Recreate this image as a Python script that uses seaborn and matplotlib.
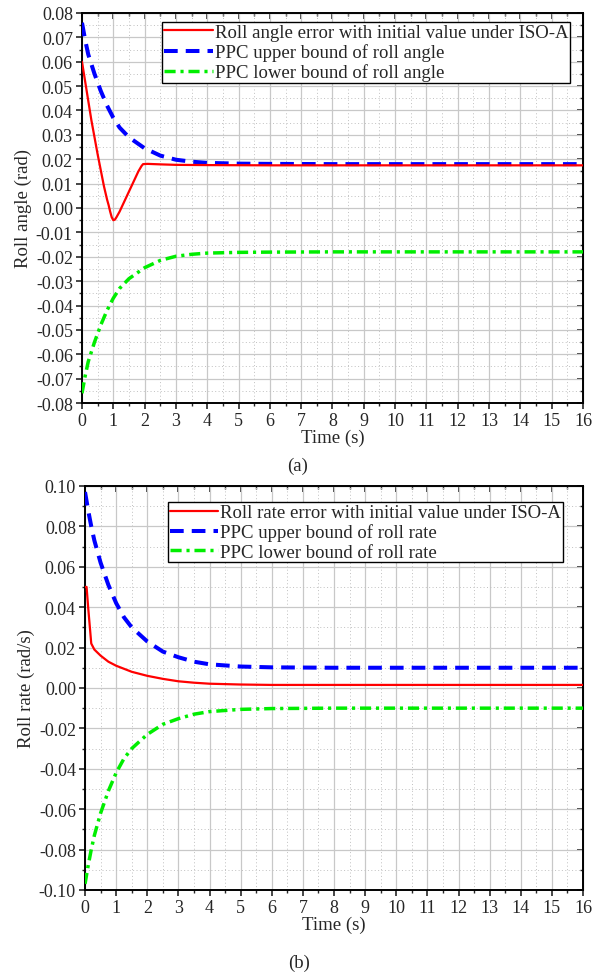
import numpy as np
import pandas as pd
import matplotlib
matplotlib.use("Agg")
import matplotlib.pyplot as plt
import seaborn as sns
from matplotlib.ticker import MultipleLocator

# ---------------- data ----------------
t_a_err = [0, 0.1, 0.2, 0.3, 0.4, 0.5, 0.6, 0.7, 0.8, 0.85, 0.9, 0.95, 1.0, 1.05, 1.1, 1.2, 1.4, 1.6, 1.8, 1.9, 1.95, 2.1, 2.5, 3.0, 4.0, 6.0, 10.0, 16.0]
angle_err = [0.060, 0.052, 0.044, 0.036, 0.029, 0.022, 0.0155, 0.009, 0.0035, 0.0012, -0.0015, -0.0038, -0.0050, -0.0048, -0.0038, -0.0015, 0.004, 0.0095, 0.015, 0.0172, 0.0180, 0.0181, 0.0179, 0.0177, 0.0176, 0.0175, 0.0175, 0.0175]

t_a_bnd = [0, 0.1, 0.2, 0.4, 0.6, 0.8, 1.0, 1.2, 1.5, 2.0, 2.5, 3.0, 3.5, 4.0, 5.0, 6.0, 8.0, 16.0]
angle_up = [0.076, 0.069, 0.063, 0.055, 0.048, 0.042, 0.037, 0.033, 0.029, 0.0245, 0.0215, 0.0198, 0.0190, 0.0185, 0.0182, 0.0181, 0.0180, 0.0180]
angle_lo = [-v for v in angle_up]

t_b_err = [0, 0.05, 0.1, 0.2, 0.3, 0.5, 0.75, 1.0, 1.5, 2.0, 2.5, 3.0, 3.5, 4.0, 5.0, 6.0, 8.0, 16.0]
rate_err = [0.050, 0.050, 0.040, 0.022, 0.019, 0.016, 0.013, 0.011, 0.008, 0.006, 0.0045, 0.0033, 0.0026, 0.0021, 0.0017, 0.0015, 0.0015, 0.0015]

t_b_bnd = [0, 0.1, 0.2, 0.3, 0.5, 0.75, 1.0, 1.25, 1.5, 2.0, 2.5, 3.0, 3.5, 4.0, 5.0, 6.0, 8.0, 16.0]
rate_up = [0.097, 0.088, 0.080, 0.073, 0.062, 0.051, 0.042, 0.035, 0.030, 0.023, 0.018, 0.0152, 0.0130, 0.0117, 0.0106, 0.0102, 0.0100, 0.0100]
rate_lo = [-v for v in rate_up]

labels_a = ["Roll angle error with initial value under ISO-A",
            "PPC upper bound of roll angle",
            "PPC lower bound of roll angle"]
labels_b = ["Roll rate error with initial value under ISO-A",
            "PPC upper bound of roll rate",
            "PPC lower bound of roll rate"]

# ---------------- style ----------------
sns.set_style("ticks")
plt.rcParams["font.family"] = ["Liberation Serif", "DejaVu Serif"]

fig = plt.figure(figsize=(5.95, 9.78), dpi=100)
ax_a = fig.add_axes([0.1378, 0.5869, 0.842, 0.3988])
ax_b = fig.add_axes([0.1429, 0.0890, 0.837, 0.4131])

def draw(ax, series, labels, ylim, ymaj, ymin, ylabel, tag, tag_y, legbox):
    (t1, y1), (t2, y2), (t3, y3) = series
    sns.lineplot(x=t1, y=y1, ax=ax, color="#ff0000", lw=1.6, label=labels[0], zorder=5)
    sns.lineplot(x=t2, y=y2, ax=ax, color="#0000ff", lw=2.9, label=labels[1], zorder=4)
    ax.lines[-1].set_dashes((3.4, 2.0))
    sns.lineplot(x=t3, y=y3, ax=ax, color="#00ee00", lw=2.5, label=labels[2], zorder=4)
    ax.lines[-1].set_dashes((3.2, 1.4, 0.9, 1.4))
    ax.set_xlim(0, 16)
    ax.set_ylim(*ylim)
    ax.xaxis.set_major_locator(MultipleLocator(1))
    ax.xaxis.set_minor_locator(MultipleLocator(0.5))
    ax.yaxis.set_major_locator(MultipleLocator(ymaj))
    ax.yaxis.set_minor_locator(MultipleLocator(ymin))
    ax.grid(which="major", color="#c8c8c8", lw=0.9, ls="-")
    ax.grid(which="minor", color="#c0c0c0", lw=0.7, ls=(0, (1, 2.5)))
    ax.set_axisbelow(True)
    for s in ax.spines.values():
        s.set_linewidth(1.4)
        s.set_color("black")
        s.set_visible(True)
    ax.tick_params(which="major", direction="out", length=4.5, width=1.2, labelsize=13,
                   top=False, right=False, pad=2)
    ax.tick_params(which="minor", direction="out", length=2.5, width=1.0, top=False, right=False)
    ax2 = ax.secondary_yaxis("right")
    ax2.yaxis.set_major_locator(MultipleLocator(ymaj))
    ax2.yaxis.set_minor_locator(MultipleLocator(ymin))
    ax2.tick_params(which="major", direction="in", length=4.5, width=1.2, labelright=False)
    ax2.tick_params(which="minor", direction="in", length=2.5, width=1.0)
    ax3 = ax.secondary_xaxis("top")
    ax3.xaxis.set_major_locator(MultipleLocator(1))
    ax3.xaxis.set_minor_locator(MultipleLocator(0.5))
    ax3.tick_params(which="major", direction="in", length=4.5, width=1.2, labeltop=False)
    ax3.tick_params(which="minor", direction="in", length=2.5, width=1.0)
    ax.set_yticklabels([f"{v:.2f}".replace("-0.00", "0.00") for v in ax.get_yticks()])
    ax.set_ylabel(ylabel, fontsize=13.5, labelpad=3)
    ax.set_xlabel("Time (s)", fontsize=13.5, labelpad=0)
    ax.text(0.43, tag_y, tag, transform=ax.transAxes, ha="center", va="center", fontsize=13.5)
    leg = ax.legend(loc="upper left", bbox_to_anchor=legbox, fontsize=13.5, frameon=True,
                    fancybox=False, edgecolor="black", framealpha=1, borderpad=0.1,
                    labelspacing=0.12, handlelength=2.6, handletextpad=0.1, borderaxespad=0)
    leg.get_frame().set_linewidth(1.0)

draw(ax_a, [(t_a_err, angle_err), (t_a_bnd, angle_up), (t_a_bnd, angle_lo)], labels_a,
     (-0.08, 0.08), 0.01, 0.005, "Roll angle (rad)", "(a)", -0.16, (0.16, 0.977))
draw(ax_b, [(t_b_err, rate_err), (t_b_bnd, rate_up), (t_b_bnd, rate_lo)], labels_b,
     (-0.10, 0.10), 0.02, 0.01, "Roll rate (rad/s)", "(b)", -0.18, (0.166, 0.96))

fig.savefig("out.png", dpi=100)
